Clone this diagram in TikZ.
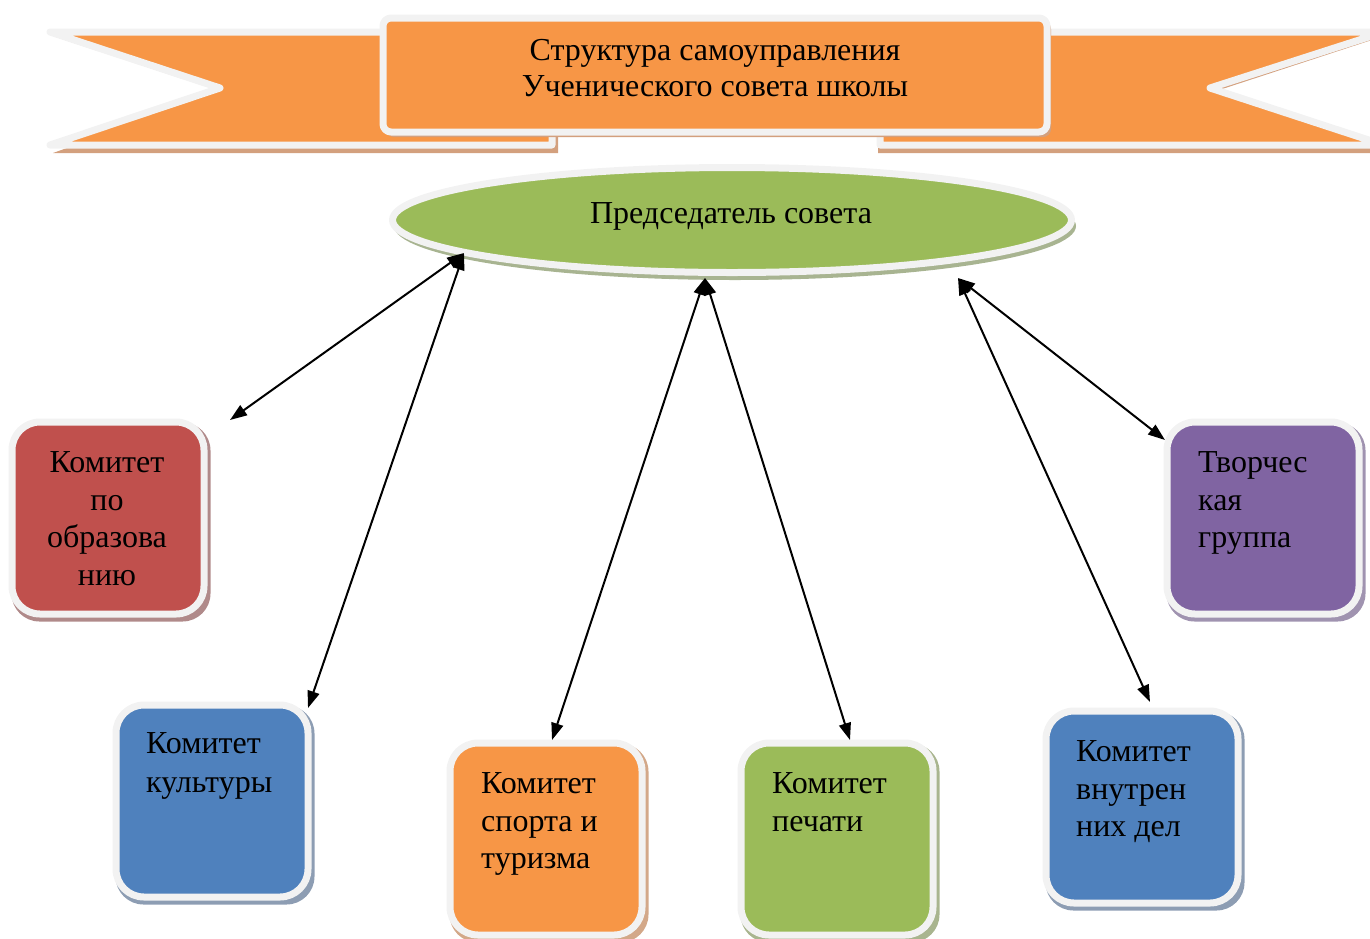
\documentclass[tikz,border=0pt]{standalone}
\usepackage{fontspec}
\setmainfont{Liberation Serif}
\usetikzlibrary{arrows.meta,shapes.geometric}
\definecolor{rib}{HTML}{F79646}
\definecolor{ribsh}{HTML}{D3A07E}
\definecolor{rimc}{HTML}{F2F2F2}
\definecolor{grn}{HTML}{9BBB59}
\definecolor{grnsh}{HTML}{A8B491}
\definecolor{redc}{HTML}{C0504D}
\definecolor{redsh}{HTML}{B08A8A}
\definecolor{blu}{HTML}{4F81BD}
\definecolor{blush}{HTML}{8D9DB3}
\definecolor{pur}{HTML}{8064A2}
\definecolor{pursh}{HTML}{A093B0}
\definecolor{orsh}{HTML}{D3A889}
\definecolor{grsh2}{HTML}{A9B58F}
\begin{document}
\begin{tikzpicture}[x=1pt,y=-1pt,
  rim/.style={draw=rimc,line width=7pt,line join=round},
  cbox/.style={rectangle,rounded corners=28pt,minimum width=192pt,minimum height=192pt,inner sep=0pt,rim},
  cshadow/.style={rectangle,rounded corners=28pt,minimum width=199pt,minimum height=199pt,inner sep=0pt},
  ctext/.style={font=\fontsize{32}{37.5}\selectfont,inner sep=0pt,align=left,anchor=base west},
  arr/.style={line width=2pt,{Triangle[length=17pt,width=12pt]}-{Triangle[length=17pt,width=12pt]}}]
\useasboundingbox (0,0) rectangle (1370,938);
\clip (0,0) rectangle (1370,938);
% ---- banner shadows
\fill[ribsh] (53,36) -- (558,36) -- (558,153) -- (53,153) -- (223,92) -- cycle;
\fill[ribsh] (878,36) -- (1384,36) -- (1213,92) -- (1384,153) -- (878,153) -- cycle;
% ---- banner bands
\path[fill=rib,rim] (50,32) -- (552,32) -- (552,145) -- (50,145) -- (220,88) -- cycle;
\path[fill=rib,rim] (880,32) -- (1384,32) -- (1210,88) -- (1384,145) -- (880,145) -- cycle;
% ---- banner panel
\fill[ribsh,rounded corners=8pt] (386,21) rectangle (1051,137);
\node[rectangle,rounded corners=8pt,minimum width=664pt,minimum height=114pt,inner sep=0pt,fill=rib,rim] (panel) at (715,75) {};
\node[font=\fontsize{32}{36}\selectfont,align=center,inner sep=0pt,anchor=base] (title) at (715,96.5) {Структура самоуправления\\Ученического совета школы};
% ---- chairman ellipse
\node[ellipse,minimum width=682pt,minimum height=108pt,inner sep=0pt,fill=grnsh] (presh) at (735,226) {};
\node[ellipse,minimum width=679pt,minimum height=105pt,inner sep=0pt,fill=grn,rim] (pres) at (732,220) {};
\node[font=\fontsize{32}{36}\selectfont,inner sep=0pt,anchor=base] (ptext) at (731,223.5) {Председатель совета};
% ---- committee boxes
\node[cshadow,fill=redsh] (s1) at (111,522) {};
\node[cbox,fill=redc] (k1) at (108,518) {};
\node[ctext,align=center,anchor=base] (t1) at (107,585) {Комитет\\по\\образова\\нию};
\node[cshadow,fill=blush] (s2) at (215,805) {};
\node[cbox,fill=blu] (k2) at (212,801) {};
\node[ctext,font=\fontsize{32}{38.5}\selectfont] (t2) at (146,792) {Комитет\\культуры};
\node[cshadow,fill=orsh] (s3) at (549,843) {};
\node[cbox,fill=rib] (k3) at (546,839) {};
\node[ctext] (t3) at (481,868.5) {Комитет\\спорта и\\туризма};
\node[cshadow,fill=grsh2] (s4) at (840,843) {};
\node[cbox,fill=grn] (k4) at (837,839) {};
\node[ctext] (t4) at (772,831) {Комитет\\печати};
\node[cshadow,fill=blush] (s5) at (1145,811) {};
\node[cbox,fill=blu] (k5) at (1142,807) {};
\node[ctext] (t5) at (1076,836.5) {Комитет\\внутрен\\них дел};
\node[cshadow,fill=pursh] (s6) at (1266,522) {};
\node[cbox,fill=pur] (k6) at (1263,518) {};
\node[ctext] (t6) at (1198,547.5) {Творчес\\кая\\группа};
% ---- arrow ends
\coordinate (e1) at (464,253);
\coordinate (e2) at (705,278);
\coordinate (e3) at (958,278);
\coordinate (a1) at (230,420);
\coordinate (a2) at (308,708);
\coordinate (a3) at (552,740);
\coordinate (a4) at (850,740);
\coordinate (a5) at (1165,440);
\coordinate (a6) at (1150,702);
\draw[arr] (e1) -- (a1);
\draw[arr] (e1) -- (a2);
\draw[arr] (e2) -- (a3);
\draw[arr] (e2) -- (a4);
\draw[arr] (e3) -- (a5);
\draw[arr] (e3) -- (a6);
\end{tikzpicture}
\end{document}
